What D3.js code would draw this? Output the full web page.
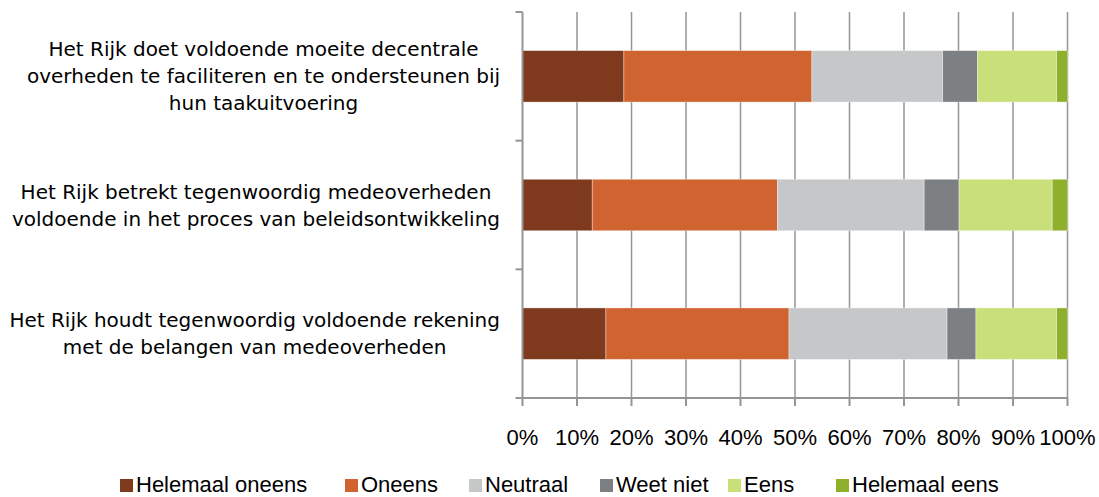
<!DOCTYPE html>
<html>
<head>
<meta charset="utf-8">
<title>Stacked bars</title>
<script src="https://d3js.org/d3.v7.min.js"></script>
<style>
body { margin: 0; background: #fff; }
text { font-family: "Liberation Sans", Arial, sans-serif; fill: #000; }
.cat text { font-family: "DejaVu Sans", sans-serif; }
</style>
</head>
<body>
<svg width="1099" height="497"></svg>
<script>
// statements, top to bottom
var statements = [
  ["Het Rijk doet voldoende moeite decentrale", "overheden te faciliteren en te ondersteunen bij", "hun taakuitvoering"],
  ["Het Rijk betrekt tegenwoordig medeoverheden", "voldoende in het proces van beleidsontwikkeling"],
  ["Het Rijk houdt tegenwoordig voldoende rekening", "met de belangen van medeoverheden"]
];
var answers = ["Helemaal oneens", "Oneens", "Neutraal", "Weet niet", "Eens", "Helemaal eens"];
var colors = ["#7f3a1e", "#d06430", "#c6c7c8", "#7d8083", "#c8df7a", "#8fb02a"];

// percentages per statement, same order as answers
var shares = [
  [18.6, 34.5, 24.0, 6.4, 14.5, 2.0],
  [12.8, 34.0, 26.9, 6.4, 17.1, 2.8],
  [15.3, 33.6, 29.0, 5.3, 14.8, 2.0]
];
var ticks = [0, 10, 20, 30, 40, 50, 60, 70, 80, 90, 100];

var svg = d3.select("svg");
var mLeft = 522.5, mRight = 1067.5, mTop = 12, mBottom = 398;

var x = d3.scaleLinear().domain([0, 100]).range([mLeft, mRight]);
var y = d3.scaleBand().domain(d3.range(statements.length))
  .range([mTop, mBottom]).paddingInner(0.6).paddingOuter(0.3);

// gridlines
svg.append("g").selectAll("line")
  .data(ticks.slice(1))
  .enter().append("line")
  .attr("x1", function(d) { return x(d); })
  .attr("x2", function(d) { return x(d); })
  .attr("y1", mTop).attr("y2", mBottom)
  .attr("stroke", "#959595").attr("stroke-width", 1.5);

// bars
var rows = svg.append("g").selectAll("g")
  .data(shares)
  .enter().append("g");

rows.selectAll("rect")
  .data(function(d, i) {
    var acc = 0;
    return d.map(function(v, j) {
      var seg = { row: i, k: j, x0: acc, x1: acc + v };
      acc += v;
      return seg;
    });
  })
  .enter().append("rect")
  .attr("x", function(d) { return x(d.x0); })
  .attr("width", function(d) { return x(d.x1) - x(d.x0); })
  .attr("y", function(d) { return y(d.row); })
  .attr("height", y.bandwidth())
  .attr("fill", function(d) { return colors[d.k]; })
  .attr("stroke", "rgba(255,255,255,0.45)")
  .attr("stroke-width", 0.8);

// left axis
var axisG = svg.append("g").attr("stroke", "#959595").attr("stroke-width", 2);
axisG.append("line").attr("x1", mLeft).attr("x2", mLeft).attr("y1", mTop).attr("y2", mBottom);
var bounds = [0, 1, 2, 3].map(function(i) { return mTop + i * y.step(); });
axisG.selectAll(".yt").data(bounds).enter().append("line")
  .attr("x1", mLeft - 7).attr("x2", mLeft)
  .attr("y1", function(d) { return d; }).attr("y2", function(d) { return d; });

// bottom axis
axisG.append("line").attr("x1", mLeft).attr("x2", mRight).attr("y1", mBottom).attr("y2", mBottom);
axisG.selectAll(".xt").data(ticks).enter().append("line")
  .attr("x1", function(d) { return x(d); }).attr("x2", function(d) { return x(d); })
  .attr("y1", mBottom).attr("y2", mBottom + 8);

svg.append("g").selectAll("text")
  .data(ticks)
  .enter().append("text")
  .attr("x", function(d) { return x(d); })
  .attr("y", 445)
  .attr("text-anchor", "middle")
  .style("font-size", "22px")
  .text(function(d) { return d + "%"; });

// category labels, centred block aligned right to the axis
var lineH = 27;
statements.forEach(function(lines, i) {
  var cy = y(i) + y.bandwidth() / 2;
  var g = svg.append("g").attr("class", "cat");
  var t = g.selectAll("text").data(lines).enter().append("text")
    .attr("text-anchor", "middle")
    .attr("dy", "0.35em")
    .style("font-size", "20px")
    .attr("y", function(d, j) { return cy + (j - (lines.length - 1) / 2) * lineH; })
    .text(function(d) { return d; });
  var maxW = d3.max(t.nodes(), function(n) { return n.getComputedTextLength(); });
  t.attr("x", 500 - maxW / 2);
});

// legend
var legendX = [120, 345, 469, 600, 728, 836];
var leg = svg.append("g").selectAll("g")
  .data(answers)
  .enter().append("g")
  .attr("transform", function(d, i) { return "translate(" + legendX[i] + ",479)"; });
leg.append("rect").attr("width", 13).attr("height", 13)
  .attr("fill", function(d, i) { return colors[i]; });
leg.append("text").attr("x", 16).attr("y", 13)
  .style("font-size", "22px")
  .text(function(d) { return d; });
</script>
</body>
</html>
